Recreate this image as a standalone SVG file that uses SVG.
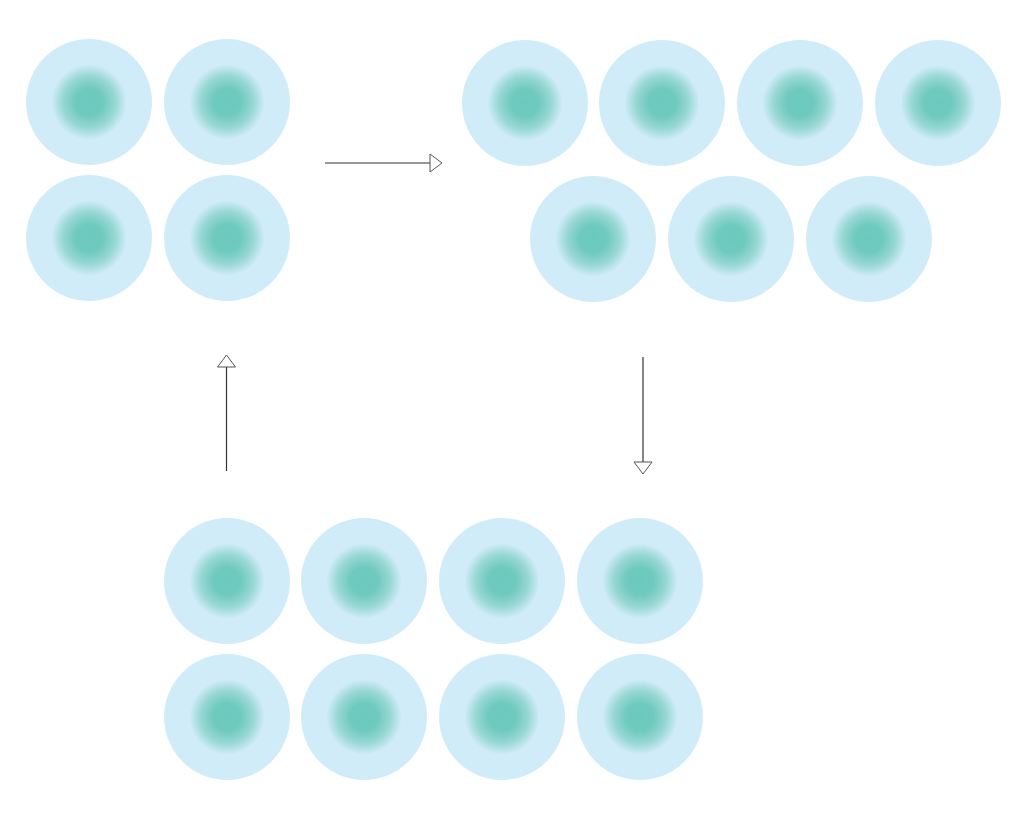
<svg xmlns="http://www.w3.org/2000/svg" width="1024" height="825" viewBox="0 0 1024 825">
<defs>
<radialGradient id="g" cx="0.5" cy="0.5" r="0.5">
<stop offset="0" stop-color="#6bc9bc"/>
<stop offset="0.22" stop-color="#6fcabe"/>
<stop offset="0.42" stop-color="#98d8d4"/>
<stop offset="0.6" stop-color="#d1ecf9"/>
<stop offset="1" stop-color="#d1ecf9"/>
</radialGradient>
<marker id="ah" markerWidth="14" markerHeight="20" refX="1" refY="10" orient="auto" markerUnits="userSpaceOnUse">
<path d="M1,1 L13,10 L1,19 Z" fill="#fff" stroke="#555" stroke-width="1"/>
</marker>
</defs>
<style>.c{fill:url(#g)}.l{stroke:#333;stroke-width:1.2;fill:none}</style>
<rect width="1024" height="825" fill="#fff"/>
<g id="group-top-left">
<circle class="c" cx="89" cy="102" r="63"/>
<circle class="c" cx="227" cy="102" r="63"/>
<circle class="c" cx="89" cy="238" r="63"/>
<circle class="c" cx="227" cy="238" r="63"/>
</g>
<g id="group-top-right">
<circle class="c" cx="525" cy="103" r="63"/>
<circle class="c" cx="662" cy="103" r="63"/>
<circle class="c" cx="800" cy="103" r="63"/>
<circle class="c" cx="938" cy="103" r="63"/>
<circle class="c" cx="593" cy="239" r="63"/>
<circle class="c" cx="731" cy="239" r="63"/>
<circle class="c" cx="869" cy="239" r="63"/>
</g>
<g id="group-bottom">
<circle class="c" cx="227" cy="581" r="63"/>
<circle class="c" cx="364" cy="581" r="63"/>
<circle class="c" cx="502" cy="581" r="63"/>
<circle class="c" cx="640" cy="581" r="63"/>
<circle class="c" cx="227" cy="717" r="63"/>
<circle class="c" cx="364" cy="717" r="63"/>
<circle class="c" cx="502" cy="717" r="63"/>
<circle class="c" cx="640" cy="717" r="63"/>
</g>
<g id="connectors">
<line class="l" x1="325" y1="163" x2="430" y2="163" marker-end="url(#ah)"/>
<line class="l" x1="643" y1="357" x2="643" y2="462" marker-end="url(#ah)"/>
<line class="l" x1="226.5" y1="471" x2="226.5" y2="367" marker-end="url(#ah)"/>
</g>
</svg>
